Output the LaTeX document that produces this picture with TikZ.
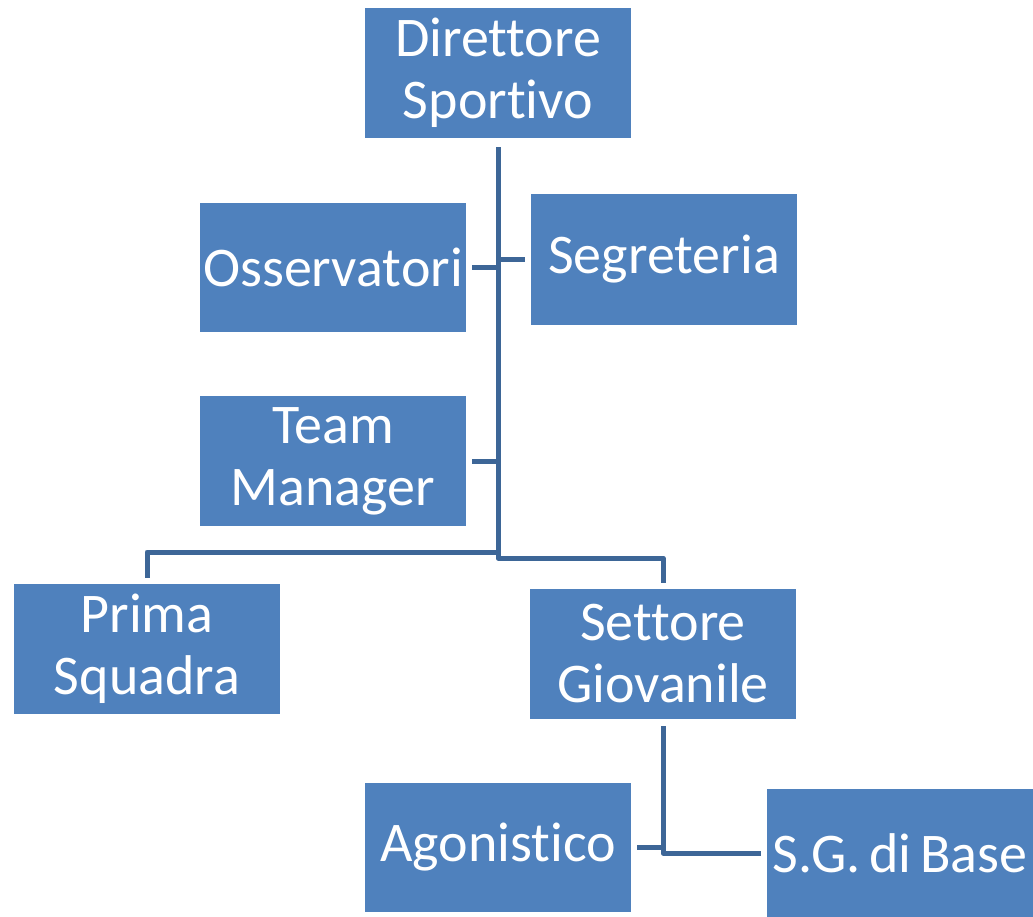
\documentclass[tikz,border=0pt]{standalone}
\usepackage{fontspec}
\setmainfont{Carlito}[Ligatures=NoCommon]
\definecolor{boxblue}{HTML}{4F81BD}
\definecolor{lineblue}{HTML}{3D6697}
\begin{document}
\frenchspacing
\begin{tikzpicture}[x=1pt,y=-1pt,
  orgbox/.style={fill=boxblue, draw=none, text=white, inner sep=0pt,
    minimum width=266pt, minimum height=130pt, text width=266pt, align=center,
    font=\fontsize{56}{62}\selectfont\frenchspacing},
  conn/.style={draw=lineblue, line width=5pt, line join=round}]
\useasboundingbox[fill=white] (0,0) rectangle (1033,917);
\node[orgbox] (dir) at (498,73) {Direttore\\Sportivo};
\node[orgbox, minimum height=129pt] (oss) at (333,267.5) {Osservatori};
\node[orgbox] (seg) at (664,259.5) {Segreteria};
\node[orgbox] (team) at (333,461) {Team\\Manager};
\node[orgbox] (prima) at (147,649) {Prima\\Squadra};
\node[orgbox] (sett) at (663,654) {Settore\\Giovanile};
\node[orgbox, minimum height=129pt] (agon) at (498,847.5) {Agonistico};
\node[orgbox, minimum height=128pt] (base) at (900,853) {\spaceskip=0.15em\relax\hbox to 266pt{\hss S.G. di Base\hss}};
\coordinate (tr) at (498,0);
\coordinate (j1) at (498,552);
\coordinate (j2) at (498,558);
\draw[conn, shorten <=9pt] (dir.south) -- (j1) -| ([yshift=6pt]prima.north);
\draw[conn] (j1) -- (j2) -| ([yshift=6pt]sett.north);
\draw[conn, shorten <=6pt] (oss.east) -- (oss.east -| tr);
\draw[conn, shorten <=6pt] (seg.west) -- (seg.west -| tr);
\draw[conn, shorten <=6pt] (team.east) -- (team.east -| tr);
\draw[conn, shorten <=7pt, shorten >=6pt] (sett.south) |- (base.west);
\draw[conn, shorten <=6pt] (agon.east) -- (agon.east -| sett.south);
\end{tikzpicture}
\end{document}
